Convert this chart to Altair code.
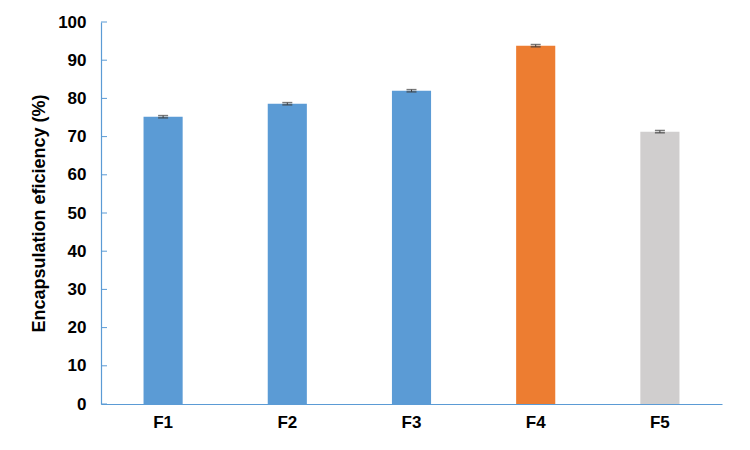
import altair as alt
import pandas as pd

categories = ["F1", "F2", "F3", "F4", "F5"]
values = [75.2, 78.6, 82.0, 93.8, 71.3]
errors = [0.3, 0.3, 0.3, 0.3, 0.3]
colors = ["#5B9BD5", "#5B9BD5", "#5B9BD5", "#ED7D31", "#D0CECE"]
y_ticks = [0, 10, 20, 30, 40, 50, 60, 70, 80, 90, 100]

df = pd.DataFrame({
    "cat": categories,
    "val": values,
    "lo": [v - e for v, e in zip(values, errors)],
    "hi": [v + e for v, e in zip(values, errors)],
})
ticks_df = pd.DataFrame({"t": y_ticks})

FONT = "Liberation Sans"
AXIS_COLOR = "#5B9BD5"
Y_TITLE = "Encapsulation eficiency (%)"

x_axis = alt.Axis(labelAngle=0, labelFont=FONT, labelFontSize=17, labelFontWeight="bold",
                  labelColor="#000000", labelPadding=10, ticks=False,
                  domainColor=AXIS_COLOR, domainWidth=1.2, grid=False)
x_scale = alt.Scale(paddingInner=0.685, paddingOuter=0.3425)
y_axis = alt.Axis(values=y_ticks, labelFont=FONT, labelFontSize=17, labelFontWeight="bold",
                  labelColor="#000000", labelPadding=15, ticks=False, grid=False,
                  labelOverlap=False,
                  domainColor=AXIS_COLOR, domainWidth=1.2,
                  titleFont=FONT, titleFontSize=18, titleFontWeight="bold", titleColor="#000000",
                  titleAngle=-90, titleX=-62, titleY=191, titleAlign="center",
                  titleBaseline="middle")
y_scale = alt.Scale(domain=[0, 100], nice=False)


def X():
    return alt.X("cat:N", sort=categories, title=None, scale=x_scale, axis=x_axis)


def Y(field):
    return alt.Y(field, scale=y_scale, title=Y_TITLE, axis=y_axis)


bars = alt.Chart(df).mark_bar().encode(
    x=X(),
    y=Y("val:Q"),
    color=alt.Color("cat:N", scale=alt.Scale(domain=categories, range=colors), legend=None),
)

err_rule = alt.Chart(df).mark_rule(color="#404040", strokeWidth=1).encode(
    x=X(), y=Y("lo:Q"), y2="hi:Q",
)
cap_hi = alt.Chart(df).mark_tick(color="#404040", size=10, thickness=1.5).encode(
    x=X(), y=Y("hi:Q"),
)
cap_lo = alt.Chart(df).mark_tick(color="#404040", size=10, thickness=1.5).encode(
    x=X(), y=Y("lo:Q"),
)

ytick_marks = alt.Chart(ticks_df).mark_rule(color=AXIS_COLOR, strokeWidth=1).encode(
    x=alt.value(0),
    x2=alt.value(6),
    y=Y("t:Q"),
)

chart = alt.layer(bars, err_rule, cap_hi, cap_lo, ytick_marks).properties(
    width=621, height=382,
    autosize=alt.AutoSizeParams(type="none"),
    padding={"left": 93, "top": 14, "right": 12, "bottom": 30},
).configure(background="#ffffff").configure_view(stroke=None)

chart.save("out.html", embed_options={"renderer": "svg", "actions": False})
